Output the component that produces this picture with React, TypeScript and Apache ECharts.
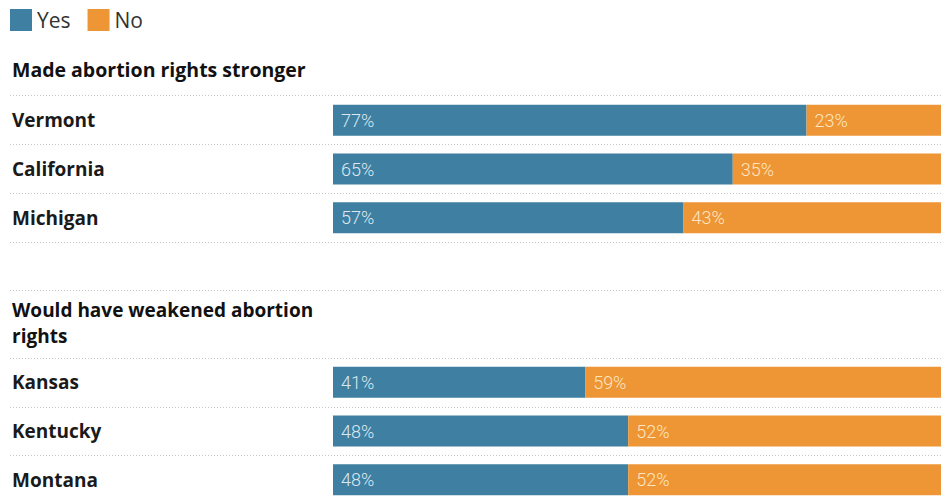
import React, { useEffect, useRef } from "react";
import * as echarts from "echarts";

const seriesNames = ["Yes", "No"];
const group1Title = ["Made abortion rights stronger"];
const group1States = ["Vermont", "California", "Michigan"];
const group1Yes = [77, 65, 57];
const group1No = [23, 35, 43];

const group2Title = ["Would have weakened abortion", "rights"];
const group2States = ["Kansas", "Kentucky", "Montana"];
const group2Yes = [41, 48, 48];
const group2No = [59, 52, 52];

const BLUE = "#3f7fa1";
const ORANGE = "#ee9535";
const BOLD_FONT = "'Open Sans', Roboto, sans-serif";
const FONT = "Roboto, 'Noto Sans', sans-serif";

export default function App() {
  const ref = useRef<HTMLDivElement>(null);
  useEffect(() => {
    document.body.style.margin = "0";
    if (!ref.current) return;
    const chart = echarts.init(ref.current, undefined, { renderer: "svg" });

    const labelStyle = (color: string) => ({
      show: true,
      position: "insideLeft" as const,
      distance: 8,
      formatter: "{c}%",
      color,
      fontSize: 18,
      fontWeight: 300,
      fontFamily: FONT,
    });

    const grids = [
      { left: 333, width: 615, top: 96, height: 146, outerBoundsMode: "none", containLabel: false },
      { left: 333, width: 615, top: 358, height: 146, outerBoundsMode: "none", containLabel: false },
    ];
    const states = [group1States, group2States];
    const yes = [group1Yes, group2Yes];
    const no = [group1No, group2No];

    const series: any[] = [];
    [0, 1].forEach((g) => {
      series.push({
        name: seriesNames[0],
        type: "bar",
        stack: "s" + g,
        xAxisIndex: g,
        yAxisIndex: g,
        barWidth: 31,
        data: yes[g],
        itemStyle: { color: BLUE },
        label: labelStyle("#dbe9f1"),
      });
      series.push({
        name: seriesNames[1],
        type: "bar",
        stack: "s" + g,
        xAxisIndex: g,
        yAxisIndex: g,
        barWidth: 31,
        data: no[g],
        itemStyle: { color: ORANGE },
        label: labelStyle("#fde6c0"),
      });
    });

    const sepYs = [95, 144, 193, 242, 290, 358, 407, 455];
    const lines = sepYs.map((y) => ({
      type: "line",
      shape: { x1: 10, y1: y + 0.5, x2: 941, y2: y + 0.5 },
      style: { stroke: "#c8c8c8", lineWidth: 1, lineDash: [1, 2] },
      silent: true,
    }));

    const titleText = (text: string, top: number, size: number) => ({
      type: "text",
      left: 12,
      top,
      style: {
        text,
        fontSize: size,
        fontWeight: "bold",
        fontFamily: BOLD_FONT,
        fill: "#111",
      },
    });

    chart.setOption({
      animation: false,
      legend: {
        left: 10,
        top: 9,
        padding: 0,
        icon: "rect",
        itemWidth: 22,
        itemHeight: 22,
        itemGap: 17,
        textStyle: { fontSize: 21, color: "#333", fontFamily: BOLD_FONT },
        data: seriesNames,
      },
      grid: grids,
      xAxis: [0, 1].map((g) => ({
        type: "value",
        gridIndex: g,
        min: 0,
        max: 100,
        show: false,
      })),
      yAxis: [0, 1].map((g) => ({
        type: "category",
        gridIndex: g,
        inverse: true,
        data: states[g],
        axisLine: { show: false },
        axisTick: { show: false },
        splitLine: { show: false },
        axisLabel: {
          align: "left",
          margin: 321,
          fontSize: 19,
          fontWeight: "bold",
          color: "#1a1a1a",
          fontFamily: BOLD_FONT,
        },
      })),
      graphic: [
        ...lines,
        titleText(group1Title[0], 59, 19.5),
        titleText(group2Title[0], 300, 19),
        titleText(group2Title[1], 326, 19),
      ],
      series,
    });
    return () => chart.dispose();
  }, []);
  return <div ref={ref} style={{ width: 941, height: 496 }} />;
}
